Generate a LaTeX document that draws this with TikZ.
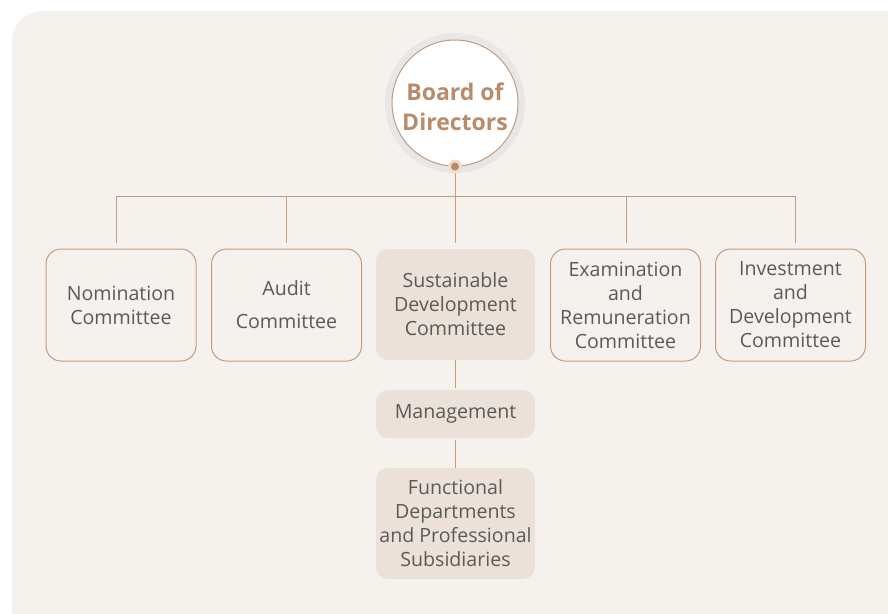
\documentclass[tikz,border=0pt]{standalone}
\usepackage{fontspec}
\setmainfont{Open Sans}
\definecolor{panel}{HTML}{F5F2EE}
\definecolor{edge}{HTML}{C29C7C}
\definecolor{title}{HTML}{B98B69}
\definecolor{halo}{HTML}{E5E7E9}
\definecolor{softfill}{HTML}{EBE1D8}
\definecolor{txt}{HTML}{5A5A5A}
\definecolor{dothalo}{HTML}{F2DCCB}
\tikzset{
  link/.style={draw=edge, line width=1pt},
  committee/.style={draw=edge, line width=1pt, rounded corners=15pt, fill=panel,
    minimum width=150pt, minimum height=112pt, align=center, text=txt,
    font=\fontsize{19.6}{24}\selectfont, inner sep=0pt},
  mainbox/.style={fill=softfill, rounded corners=12pt,
    minimum width=159pt, align=center, text=txt,
    font=\fontsize{19.6}{24}\selectfont, inner sep=0pt}
}
\begin{document}
\begin{tikzpicture}[x=1pt, y=-1pt]
\useasboundingbox (0,0) rectangle (888,613);
\begin{scope}
  \clip (0,0) rectangle (888,613);
  \fill[panel, rounded corners=30pt] (12,11) rectangle (940,660);
\end{scope}

% board circle with halo
\fill[halo] (455,103) circle (70);
\node[circle, draw=edge, line width=1pt, fill=white, minimum size=126pt, inner sep=0pt]
      (board) at (455,103) {};
\node[text=title, align=center, font=\fontsize{23}{30}\bfseries\selectfont]
      (boardtext) at (455,107) {Board of\\Directors};

% bus
\coordinate (hub) at (455,196);
\coordinate (bl) at (116,196);
\coordinate (br) at (795,196);
\foreach \n/\x in {t1/116, t2/286, t3/455, t4/626, t5/795}
  \coordinate (\n) at (\x,243);
\coordinate (b2) at (286,196);
\coordinate (b4) at (626,196);

\draw[link] (board.south) -- (hub);
\draw[link] (bl) -- (br);
\draw[link] (bl) -- (t1);
\draw[link] (b2) -- (t2);
\draw[link] (hub) -- (t3);
\draw[link] (b4) -- (t4);
\draw[link] (br) -- (t5);

% connection dot
\fill[dothalo] (board.south) circle (7);
\fill[title] (board.south) circle (4);

% committees
\node[committee] (nom) at (121,305) {Nomination\\Committee};
\node[committee] (aud) at (286.5,305) {Audit\\[9pt]Committee};
\node[mainbox, minimum height=111pt] (sdc) at (455.5,304.5) {Sustainable\\Development\\Committee};
\node[committee] (exa) at (625.5,305) {Examination\\and\\Remuneration\\Committee};
\node[committee] (inv) at (790.5,305) {Investment\\and\\Development\\Committee};

% management chain
\node[mainbox, minimum height=48pt] (mgmt) at (455.5,414) {Management};
\node[mainbox, minimum height=111pt] (func) at (455.5,523.5) {Functional\\Departments\\and Professional\\Subsidiaries};

\draw[link] (sdc.south) -- ([yshift=2pt]mgmt.north);
\draw[link] ([yshift=-2pt]mgmt.south) -- (func.north);
\end{tikzpicture}
\end{document}
